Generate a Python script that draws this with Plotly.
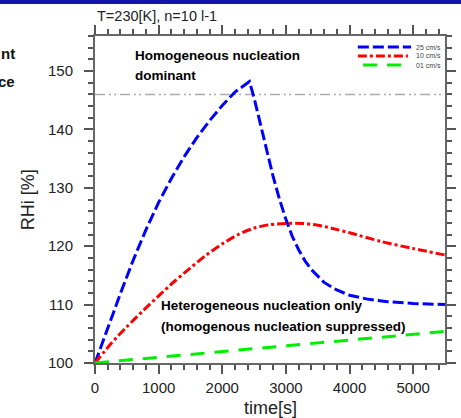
import plotly.graph_objects as go

# curves (time [s], RHi [%])
t_25 = [0, 200, 400, 600, 800, 1000, 1200, 1400, 1600, 1800, 2000, 2200, 2427,
        2500, 2600, 2700, 2800, 2900, 3000, 3100, 3200, 3300, 3400, 3600, 3800,
        4000, 4300, 4600, 5000, 5500]
rhi_25 = [100.0, 106.0, 111.9, 117.6, 122.8, 127.5, 131.6, 135.3, 138.6, 141.5, 144.1, 146.4, 148.2,
          145.4, 140.9, 136.3, 131.9, 128.0, 124.6, 121.7, 119.4, 117.5, 116.0, 113.8, 112.5,
          111.6, 110.9, 110.5, 110.2, 110.0]

t_10 = [0, 250, 500, 750, 1000, 1250, 1500, 1750, 2000, 2250, 2500, 2750, 3000,
        3250, 3500, 3750, 4000, 4500, 5000, 5500]
rhi_10 = [100.0, 103.3, 106.2, 108.9, 111.5, 114.0, 116.3, 118.5, 120.4, 122.0, 123.1, 123.7, 123.9,
          123.9, 123.6, 123.0, 122.3, 120.8, 119.6, 118.5]

t_01 = [0, 1000, 2000, 3000, 4000, 5000, 5500]
rhi_01 = [100.0, 101.0, 102.0, 102.9, 103.9, 104.9, 105.4]

homog_threshold = 146
series_names = ['25 cm/s', '10 cm/s', '01 cm/s']

FONT = 'Liberation Sans, Arial, Helvetica, sans-serif'
blue_dash = '11px,4px'
red_dash = '9px,3px,3px,3px'
green_dash = '14px,10px'

fig = go.Figure()
fig.add_trace(go.Scatter(x=t_25, y=rhi_25, mode='lines', name=series_names[0],
                         line=dict(color='#0000ff', width=3, dash=blue_dash)))
fig.add_trace(go.Scatter(x=t_10, y=rhi_10, mode='lines', name=series_names[1],
                         line=dict(color='#ff0000', width=3, dash=red_dash,
                                   shape='spline', smoothing=0.8)))
fig.add_trace(go.Scatter(x=t_01, y=rhi_01, mode='lines', name=series_names[2],
                         line=dict(color='#00ee00', width=3, dash=green_dash)))

axis_common = dict(showline=True, linecolor='#666666', linewidth=2, mirror='ticks',
                   ticks='outside', ticklen=9, tickwidth=1.5, tickcolor='#555555',
                   showgrid=False, zeroline=False, automargin=False,
                   tickfont=dict(family=FONT, size=15, color='#222222'))

fig.update_xaxes(range=[0, 5500], tickmode='linear', tick0=0, dtick=1000, ticklabelstandoff=1,
                 minor=dict(dtick=200, ticks='outside', ticklen=5, tickcolor='#555555'),
                 **axis_common)
fig.update_yaxes(range=[100, 156], tickmode='linear', tick0=100, dtick=10, ticklabelstandoff=8,
                 minor=dict(dtick=2, ticks='outside', ticklen=5, tickcolor='#555555'),
                 **axis_common)

shapes = []
annos = []

# homogeneous nucleation threshold
shapes.append(dict(type='line', xref='paper', yref='y', x0=0, x1=1,
                   y0=homog_threshold, y1=homog_threshold, layer='below',
                   line=dict(color='#aaaaaa', width=1.5, dash='10px,4px,2px,3px,2px,4px')))

# legend drawn by hand (tiny NCL style legend)
leg = [(0.966, '#0000ff', blue_dash, 0.751, 0.903),
       (0.939, '#ff0000', red_dash, 0.751, 0.894),
       (0.911, '#00ee00', green_dash, 0.766, 0.886)]
for (yy, col, dsh, x0, x1), nm in zip(leg, series_names):
    shapes.append(dict(type='line', xref='paper', yref='paper', x0=x0, x1=x1, y0=yy, y1=yy,
                       line=dict(color=col, width=3, dash=dsh), layer='above'))
    annos.append(dict(xref='paper', yref='paper', x=0.911, y=yy, text=nm, showarrow=False,
                      xanchor='left', yanchor='middle',
                      font=dict(family=FONT, size=7, color='#444444')))

# slide header bar
shapes.append(dict(type='rect', xref='paper', yref='paper', x0=-0.4, x1=1.2, y0=1.0979, y1=1.15,
                   fillcolor='#1414a8', line=dict(width=0), layer='above'))

bold = dict(family=FONT, size=13.5, color='#000000')
annos += [
    dict(xref='paper', yref='paper', x=0.0, y=1.061, text='T=230[K], n=10 l-1', showarrow=False,
         xanchor='left', yanchor='middle', font=dict(family=FONT, size=14.5, color='#222222')),
    dict(xref='x', yref='y', x=594, y=152.7, text='<b>Homogeneous nucleation</b>', showarrow=False,
         xanchor='left', yanchor='middle', font=bold),
    dict(xref='x', yref='y', x=594, y=149.3, text='<b>dominant</b>', showarrow=False,
         xanchor='left', yanchor='middle', font=bold),
    dict(xref='x', yref='y', x=1000, y=109.9, text='<b>Heterogeneous nucleation only</b>',
         showarrow=False, xanchor='left', yanchor='middle', font=bold),
    dict(xref='x', yref='y', x=1000, y=106.3, text='<b>(homogenous nucleation suppressed)</b>',
         showarrow=False, xanchor='left', yanchor='middle', font=bold),
    dict(xref='paper', yref='paper', x=-0.191, y=0.498, text='RHi [%]', textangle=-90,
         showarrow=False, xanchor='center', yanchor='middle',
         font=dict(family=FONT, size=18, color='#222222')),
    dict(xref='paper', yref='paper', x=0.5, y=-0.138, text='time[s]', showarrow=False,
         xanchor='center', yanchor='middle', font=dict(family=FONT, size=18, color='#222222')),
    # leftover slide text at the left edge
    dict(xref='paper', yref='paper', x=-0.2229, y=0.945, text='<b>nt</b>', showarrow=False,
         xanchor='right', yanchor='middle', font=dict(family=FONT, size=15, color='#111111')),
    dict(xref='paper', yref='paper', x=-0.2229, y=0.862, text='<b>ce</b>', showarrow=False,
         xanchor='right', yanchor='middle', font=dict(family=FONT, size=15, color='#111111')),
]

fig.update_layout(width=461, height=418, margin=dict(l=95, r=16, t=36, b=55),
                  plot_bgcolor='white', paper_bgcolor='white', showlegend=False,
                  shapes=shapes, annotations=annos, font=dict(family=FONT))

# drop the browser's default 8px body margin so the figure fills the window
fig.write_html("out.html", config={'displayModeBar': False},
               post_script="document.body.style.margin='0';")
